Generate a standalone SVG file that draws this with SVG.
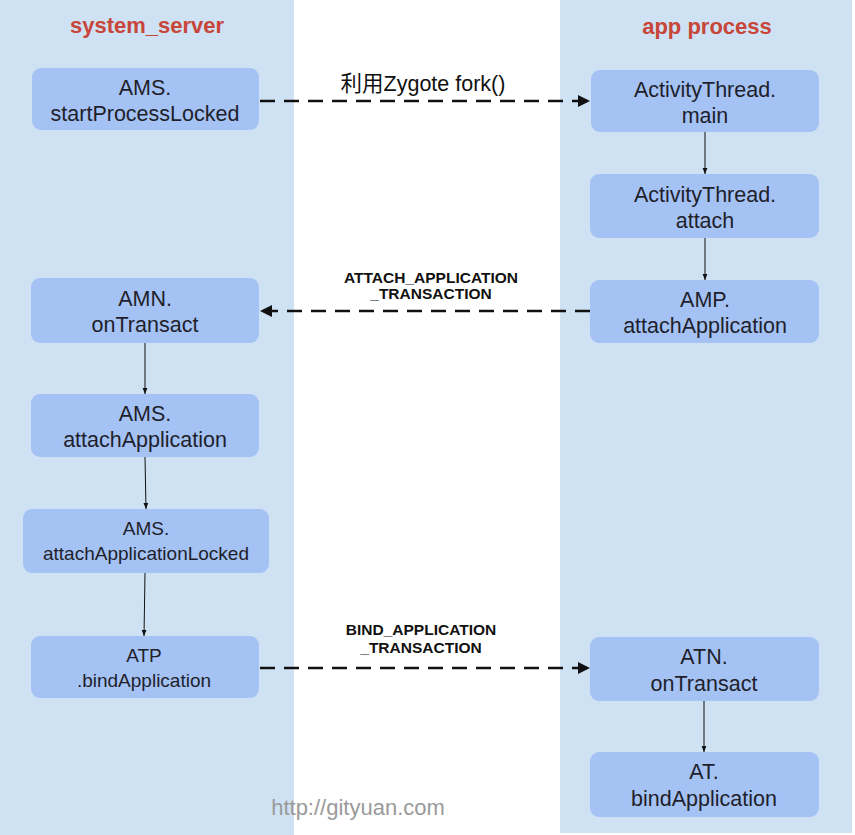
<svg xmlns="http://www.w3.org/2000/svg" width="855" height="835" viewBox="0 0 855 835">
<style>
.panel{fill:#cfe2f3}
.node{fill:#a4c2f4}
.t{font-family:"Liberation Sans",Arial,sans-serif;font-size:21.5px;fill:#1f1f2b;text-anchor:middle}
.ts{font-size:19px}
.title{font-family:"Liberation Sans",Arial,sans-serif;font-size:22px;font-weight:bold;fill:#c8453a;text-anchor:middle}
.lbl{font-family:"Liberation Sans",Arial,"Noto Sans CJK SC",sans-serif;font-size:21.5px;fill:#111;text-anchor:middle}
.blbl{font-family:"Liberation Sans",Arial,sans-serif;font-size:15.5px;font-weight:bold;fill:#111;text-anchor:middle}
.solid{stroke:#111;stroke-width:1;fill:none}
.dash{stroke:#111;stroke-width:2.5;fill:none;stroke-dasharray:15 9}
</style>
<defs>
<marker id="ah" viewBox="0 0 10 10" refX="10" refY="5" markerWidth="6" markerHeight="6" orient="auto" markerUnits="userSpaceOnUse">
<path d="M0,1 L10,5 L0,9 z" fill="#111"/>
</marker>
<marker id="ahb" viewBox="0 0 10 10" refX="10" refY="5" markerWidth="14" markerHeight="12" orient="auto" markerUnits="userSpaceOnUse">
<path d="M0,0 L10,5 L0,10 z" fill="#111"/>
</marker>
</defs>
<g id="panels">
<rect class="panel" x="0" y="0" width="294" height="835"/>
<rect class="panel" x="560" y="0" width="292" height="833"/>
<text class="title" x="147" y="33">system_server</text>
<text class="title" x="707" y="34">app process</text>
</g>
<g id="connectors">
<line class="dash" x1="260" y1="101" x2="590" y2="101" marker-end="url(#ahb)"/>
<text class="lbl" x="423" y="91">利用Zygote fork()</text>
<line class="solid" x1="705" y1="132" x2="705" y2="174" marker-end="url(#ah)"/>
<line class="solid" x1="705" y1="238" x2="705" y2="280" marker-end="url(#ah)"/>
<line class="dash" x1="590" y1="311" x2="260" y2="311" marker-end="url(#ahb)"/>
<text class="blbl" x="431" y="283">ATTACH_APPLICATION</text>
<text class="blbl" x="431" y="299">_TRANSACTION</text>
<line class="solid" x1="145" y1="343" x2="145" y2="394" marker-end="url(#ah)"/>
<line class="solid" x1="145" y1="457" x2="146" y2="509" marker-end="url(#ah)"/>
<line class="solid" x1="145" y1="573" x2="144" y2="636" marker-end="url(#ah)"/>
<line class="dash" x1="260" y1="668" x2="590" y2="668" marker-end="url(#ahb)"/>
<text class="blbl" x="421" y="635">BIND_APPLICATION</text>
<text class="blbl" x="421" y="653">_TRANSACTION</text>
<line class="solid" x1="704" y1="701" x2="704" y2="752" marker-end="url(#ah)"/>
</g>
<g id="n1"><rect class="node" x="32" y="68" width="227" height="62" rx="9"/><text class="t" x="145" y="95">AMS.</text><text class="t" x="145" y="121">startProcessLocked</text></g>
<g id="n2"><rect class="node" x="591" y="70" width="228" height="62" rx="9"/><text class="t" x="705" y="97">ActivityThread.</text><text class="t" x="705" y="123">main</text></g>
<g id="n3"><rect class="node" x="590" y="174" width="229" height="64" rx="9"/><text class="t" x="705" y="202">ActivityThread.</text><text class="t" x="705" y="228">attach</text></g>
<g id="n4"><rect class="node" x="590" y="280" width="229" height="63" rx="9"/><text class="t" x="705" y="307">AMP.</text><text class="t" x="705" y="333">attachApplication</text></g>
<g id="n5"><rect class="node" x="31" y="278" width="228" height="65" rx="9"/><text class="t" x="145" y="306">AMN.</text><text class="t" x="145" y="332">onTransact</text></g>
<g id="n6"><rect class="node" x="31" y="394" width="228" height="63" rx="9"/><text class="t" x="145" y="421">AMS.</text><text class="t" x="145" y="447">attachApplication</text></g>
<g id="n7"><rect class="node" x="23" y="509" width="246" height="64" rx="9"/><text class="t ts" x="146" y="535">AMS.</text><text class="t ts" x="146" y="560">attachApplicationLocked</text></g>
<g id="n8"><rect class="node" x="31" y="636" width="228" height="62" rx="9"/><text class="t ts" x="144" y="662">ATP</text><text class="t ts" x="144" y="687">.bindApplication</text></g>
<g id="n9"><rect class="node" x="590" y="637" width="229" height="64" rx="9"/><text class="t" x="704" y="664">ATN.</text><text class="t" x="704" y="691">onTransact</text></g>
<g id="n10"><rect class="node" x="590" y="752" width="229" height="65" rx="9"/><text class="t" x="704" y="779">AT.</text><text class="t" x="704" y="806">bindApplication</text></g>
<text x="358" y="815" style="font-family:'Liberation Sans',Arial,sans-serif;font-size:22px;fill:#9a9a9a;text-anchor:middle">http://gityuan.com</text>
</svg>
